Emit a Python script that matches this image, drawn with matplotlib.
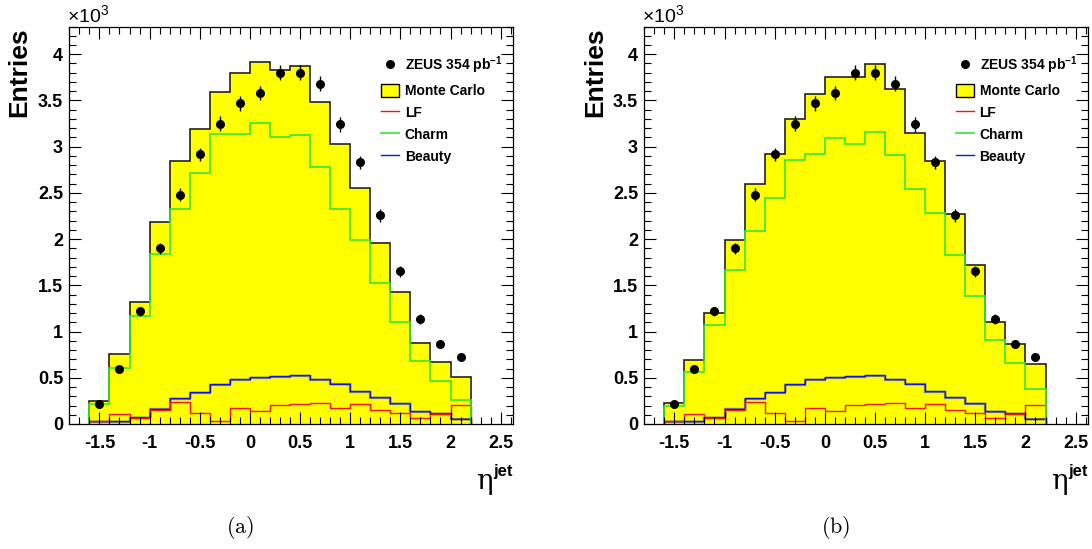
import numpy as np
import matplotlib.pyplot as plt
import matplotlib.transforms as mtransforms
from matplotlib.ticker import MultipleLocator, FuncFormatter
from matplotlib.lines import Line2D
from matplotlib.patches import Patch

plt.rcParams['font.family'] = ['Liberation Sans', 'DejaVu Sans']
plt.rcParams['axes.unicode_minus'] = False

# eta^jet binning
eta_edges = [-1.6, -1.4, -1.2, -1.0, -0.8, -0.6, -0.4, -0.2, 0.0, 0.2,
             0.4, 0.6, 0.8, 1.0, 1.2, 1.4, 1.6, 1.8, 2.0, 2.2]

# entries in units of 10^3
zeus = [0.22, 0.60, 1.22, 1.90, 2.48, 2.92, 3.25, 3.47, 3.58, 3.80,
        3.80, 3.68, 3.24, 2.83, 2.26, 1.65, 1.135, 0.865, 0.73]
zeus_err = [0.03, 0.04, 0.05, 0.06, 0.07, 0.07, 0.08, 0.08, 0.08, 0.08,
            0.08, 0.08, 0.08, 0.07, 0.07, 0.06, 0.05, 0.04, 0.04]

lf = [0.03, 0.11, 0.06, 0.15, 0.24, 0.12, 0.036, 0.17, 0.144, 0.21,
      0.22, 0.225, 0.17, 0.215, 0.15, 0.115, 0.06, 0.11, 0.205]
beauty = [0.025, 0.025, 0.07, 0.16, 0.27, 0.34, 0.42, 0.48, 0.50, 0.51,
          0.52, 0.48, 0.43, 0.35, 0.28, 0.22, 0.13, 0.11, 0.05]

mc_a = [0.25, 0.76, 1.32, 2.18, 2.84, 3.19, 3.59, 3.80, 3.92, 3.83,
        3.87, 3.48, 3.03, 2.55, 1.96, 1.43, 0.88, 0.67, 0.51]
charm_a = [0.22, 0.61, 1.17, 1.84, 2.33, 2.72, 3.14, 3.14, 3.26, 3.11,
           3.13, 2.78, 2.33, 1.99, 1.52, 1.10, 0.68, 0.47, 0.26]

mc_b = [0.23, 0.69, 1.20, 1.99, 2.60, 2.92, 3.30, 3.57, 3.75, 3.755,
        3.89, 3.62, 3.15, 2.84, 2.27, 1.72, 1.10, 0.86, 0.645]
charm_b = [0.195, 0.56, 1.07, 1.67, 2.09, 2.45, 2.86, 2.92, 3.09, 3.03,
           3.16, 2.91, 2.54, 2.28, 1.83, 1.38, 0.91, 0.66, 0.375]

edges = np.array(eta_edges)
centers = 0.5 * (edges[:-1] + edges[1:])

fig = plt.figure(figsize=(10.92, 5.49), dpi=100)


def draw_panel(ax, mc, charm):
    ax.stairs(mc, edges, baseline=0, fill=True, color='#ffff00', lw=0)
    ax.stairs(mc, edges, baseline=0, color='#222222', lw=1.2)
    ax.stairs(beauty, edges, baseline=0, color='#808080', lw=1.6)
    up = mtransforms.offset_copy(ax.transData, fig=fig, x=0, y=0.7, units='dots')
    ax.stairs(beauty, edges, baseline=0, color='#1010ee', lw=1.0, transform=up)
    ax.stairs(lf, edges, baseline=0, color='#ff1010', lw=1.0)
    ax.stairs(charm, edges, baseline=0, color='#33e633', lw=1.2)
    ax.errorbar(centers, zeus, yerr=zeus_err, fmt='o', color='black',
                markersize=5.5, elinewidth=1.0, capsize=0)

    ax.set_xlim(-1.8, 2.62)
    ax.set_ylim(0, 4.3)
    ax.xaxis.set_major_locator(MultipleLocator(0.5))
    ax.xaxis.set_minor_locator(MultipleLocator(0.1))
    ax.yaxis.set_major_locator(MultipleLocator(0.5))
    ax.yaxis.set_minor_locator(MultipleLocator(0.1))
    fmt = FuncFormatter(lambda v, _: f'{v:g}')
    ax.xaxis.set_major_formatter(fmt)
    ax.yaxis.set_major_formatter(fmt)
    ax.tick_params(which='both', direction='in', top=True, right=True, width=0.8)
    ax.tick_params(which='major', length=8.5)
    ax.tick_params(which='minor', length=5)
    ax.tick_params(axis='x', pad=8)
    ax.tick_params(axis='y', pad=4.5)
    for lab in ax.get_xticklabels() + ax.get_yticklabels():
        lab.set_fontweight('bold')
        lab.set_fontsize(13)
    for sp in ax.spines.values():
        sp.set_linewidth(0.9)

    ax.text(-0.005, 1.009, '×10$^{\\mathregular{3}}$', transform=ax.transAxes,
            ha='left', va='baseline', fontsize=14)
    ax.text(0.9556, -0.163, 'η', transform=ax.transAxes, ha='right',
            va='baseline', fontsize=20, family='DejaVu Serif')
    ax.text(0.999, -0.131, 'jet', transform=ax.transAxes, ha='right',
            va='baseline', fontsize=12, fontweight='bold')

    handles = [
        Line2D([], [], marker='o', color='black', ls='none', markersize=5.5),
        Patch(facecolor='#ffff00', edgecolor='black', lw=1.0),
        Line2D([], [], color='#ff1010', lw=1.0),
        Line2D([], [], color='#33e633', lw=1.2),
        Line2D([], [], color='#1010ee', lw=1.0),
    ]
    labels = ['ZEUS 354 pb$^{\\mathregular{-1}}$', 'Monte Carlo', 'LF', 'Charm', 'Beauty']
    leg = ax.legend(handles, labels, frameon=False, loc='upper left',
                    bbox_to_anchor=(0.703, 0.93), borderpad=0, borderaxespad=0,
                    handlelength=1.3, handleheight=1.1, handletextpad=0.4,
                    labelspacing=0.55, prop={'size': 10, 'weight': 'bold'})


ax_a = fig.add_axes([0.0635, 0.2277, 0.406, 0.7240])
ax_b = fig.add_axes([0.5900, 0.2277, 0.406, 0.7240])
draw_panel(ax_a, mc_a, charm_a)
draw_panel(ax_b, mc_b, charm_b)

for xc in (0.0174, 0.5447):
    fig.text(xc, 0.869, 'Entries', rotation=90, ha='center', va='center',
             fontsize=19, fontweight='bold')

fig.text(0.2198, 0.04, r'$\mathrm{(a)}$', fontsize=16, ha='center', va='center',
         math_fontfamily='cm')
fig.text(0.7656, 0.04, r'$\mathrm{(b)}$', fontsize=16, ha='center', va='center',
         math_fontfamily='cm')

fig.savefig('out.png', dpi=100)
